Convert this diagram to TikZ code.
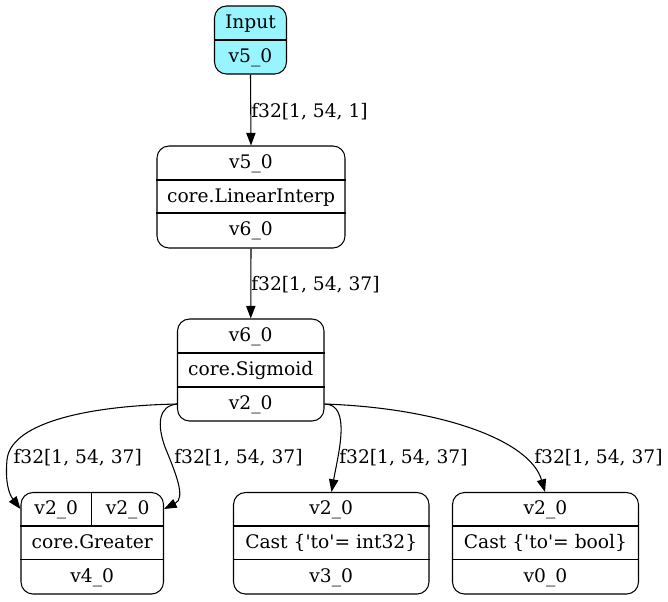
\documentclass[tikz,border=0pt]{standalone}
\usepackage{fontspec}
\newfontfamily\gvfont{DejaVu Serif}
\usetikzlibrary{arrows.meta}
\definecolor{inpfill}{HTML}{98F5FF}
\begin{document}
\begin{tikzpicture}[x=0.75pt,y=-0.75pt,
  rec/.style={draw, line width=0.8pt, rounded corners=9pt, inner sep=0pt},
  txt/.style={font=\gvfont\fontsize{14}{16}\selectfont, inner sep=0pt, text height=10pt, text depth=1.3pt, anchor=center},
  lbl/.style={font=\gvfont\fontsize{14}{16}\selectfont, inner sep=0pt, anchor=base west},
  edge/.style={line width=0.8pt, -{Triangle[length=9.5pt,width=7pt]}},
  sep/.style={line width=0.8pt}]
\useasboundingbox (0,0) rectangle (668,601);

% Input
\node[rec, fill=inpfill, minimum width={72*0.75pt}, minimum height={68*0.75pt}] (inp) at (250.5,40) {};
\draw[sep] (inp.west) -- (inp.east);
\node[txt] (inp1) at (250.5,23) {Input};
\node[txt] (inp2) at (250.5,57) {v5\_0};

% LinearInterp
\node[rec, minimum width={188*0.75pt}, minimum height={102*0.75pt}] (lin) at (251,197) {};
\draw[sep] (lin.west |- 0,180) -- (lin.east |- 0,180);
\draw[sep] (lin.west |- 0,213) -- (lin.east |- 0,213);
\node[txt] (lin1) at (251,163) {v5\_0};
\node[txt] (lin2) at (251,196.5) {core.LinearInterp};
\node[txt] (lin3) at (251,230) {v6\_0};

% Sigmoid
\node[rec, minimum width={146.5*0.75pt}, minimum height={102*0.75pt}] (sig) at (250.75,370) {};
\draw[sep] (sig.west |- 0,353) -- (sig.east |- 0,353);
\draw[sep] (sig.west |- 0,387) -- (sig.east |- 0,387);
\node[txt] (sig1) at (250.75,336) {v6\_0};
\node[txt] (sig2) at (250.75,370) {core.Sigmoid};
\node[txt] (sig3) at (250.75,404) {v2\_0};

% Greater
\node[rec, minimum width={142.5*0.75pt}, minimum height={101.5*0.75pt}] (gre) at (92.25,543.25) {};
\draw[sep] (gre.west |- 0,526) -- (gre.east |- 0,526);
\draw[sep] (gre.west |- 0,559.5) -- (gre.east |- 0,559.5);
\draw[sep] (91.7,526) -- (gre.north -| 91.7,0);
\node[txt] (gre1) at (56.3,509) {v2\_0};
\node[txt] (gre2) at (127.6,509) {v2\_0};
\node[txt] (gre3) at (92.25,543) {core.Greater};
\node[txt] (gre4) at (92.25,577) {v4\_0};

% Cast int32
\node[rec, minimum width={195.5*0.75pt}, minimum height={101.5*0.75pt}] (ci) at (331.25,543.25) {};
\draw[sep] (ci.west |- 0,526) -- (ci.east |- 0,526);
\draw[sep] (ci.west |- 0,559.5) -- (ci.east |- 0,559.5);
\node[txt] (ci1) at (331.25,509) {v2\_0};
\node[txt] (ci2) at (331.25,543) {Cast \{'to'= int32\}};
\node[txt] (ci3) at (331.25,577) {v3\_0};

% Cast bool
\node[rec, minimum width={186*0.75pt}, minimum height={101.5*0.75pt}] (cb) at (545.5,543.25) {};
\draw[sep] (cb.west |- 0,526) -- (cb.east |- 0,526);
\draw[sep] (cb.west |- 0,559.5) -- (cb.east |- 0,559.5);
\node[txt] (cb1) at (545.5,509) {v2\_0};
\node[txt] (cb2) at (545.5,543) {Cast \{'to'= bool\}};
\node[txt] (cb3) at (545.5,577) {v0\_0};

% edges
\draw[edge] (inp.south) -- (lin.north);
\node[lbl] (l1) at (251,117.3) {f32[1, 54, 1]};
\draw[edge] (lin.south) -- (sig.north);
\node[lbl] (l2) at (251,290) {f32[1, 54, 37]};

\draw[edge] (sig.west |- sig3) .. controls (80,406) and (10,425) .. (7,460)
  .. controls (5,482) and (9,494) .. (gre.west |- gre1);
\draw[edge] (sig.west |- sig3) .. controls (158,406) and (157,425) .. (165,447)
  .. controls (176,474) and (186,498) .. (gre.east |- gre2);
\draw[edge] (sig.east |- sig3) .. controls (352,404) and (338,455) .. (ci.north -| 331.5,0);
\draw[edge] (sig.east |- sig3) .. controls (440,408) and (530,440) .. (cb.north -| 545,0);

\node[lbl] (l3) at (13.3,463.3) {f32[1, 54, 37]};
\node[lbl] (l4) at (174,463.3) {f32[1, 54, 37]};
\node[lbl] (l5) at (339,463.3) {f32[1, 54, 37]};
\node[lbl] (l6) at (534,463.3) {f32[1, 54, 37]};
\end{tikzpicture}
\end{document}
